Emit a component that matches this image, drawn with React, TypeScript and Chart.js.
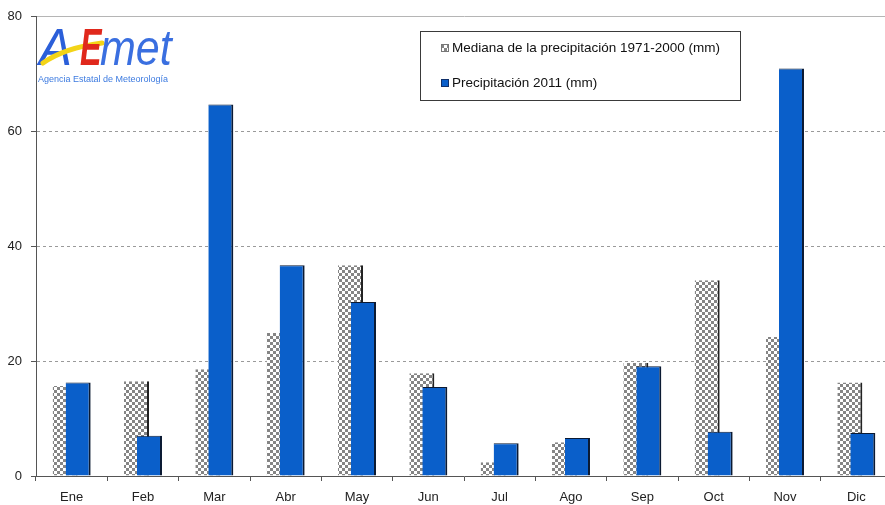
import { useEffect, useRef } from "react";
import { Chart, registerables } from "chart.js";

Chart.register(...registerables);

const months = ["Ene", "Feb", "Mar", "Abr", "May", "Jun", "Jul", "Ago", "Sep", "Oct", "Nov", "Dic"];
const median = [15.7, 16.5, 18.6, 24.9, 36.7, 17.9, 2.4, 5.9, 19.7, 34.1, 24.2, 16.3];
const precip2011 = [16.3, 7.0, 64.7, 36.7, 30.3, 15.5, 5.7, 6.6, 19.1, 7.7, 71.0, 7.5];
const yTicks = [0, 20, 40, 60, 80];
const legendLabels = ["Mediana de la precipitación 1971-2000 (mm)", "Precipitación 2011 (mm)"];
const logoLetters = ["A", "E", "met"];
const logoSubtitle = "Agencia Estatal de Meteorología";

const FONT = "'Liberation Sans', Arial, sans-serif";
const BLUE = "#0a5fca";

function makeChecker(): CanvasPattern | string {
  const c = document.createElement("canvas");
  c.width = 6;
  c.height = 6;
  const g = c.getContext("2d");
  if (!g) return "#bbb";
  g.fillStyle = "#ffffff";
  g.fillRect(0, 0, 6, 6);
  g.fillStyle = "#858585";
  g.fillRect(0, 0, 3, 3);
  g.fillRect(3, 3, 3, 3);
  return g.createPattern(c, "repeat") || "#bbb";
}

const overlayPlugin = {
  id: "overlay",
  afterDraw(chart: any) {
    const ctx: CanvasRenderingContext2D = chart.ctx;
    const pattern = (chart as any).$checker;
    ctx.save();
    // Legend box
    ctx.fillStyle = "#ffffff";
    ctx.fillRect(420.5, 31.5, 320, 69);
    ctx.strokeStyle = "#3a3a3a";
    ctx.lineWidth = 1;
    ctx.strokeRect(420.5, 31.5, 320, 69);
    ctx.font = `13.5px ${FONT}`;
    ctx.textBaseline = "middle";
    ctx.textAlign = "left";
    // entry 1
    ctx.fillStyle = pattern || "#bbb";
    ctx.fillRect(441, 44, 8, 8);
    ctx.strokeStyle = "#777";
    ctx.strokeRect(441.5, 44.5, 7, 7);
    ctx.fillStyle = "#111";
    ctx.fillText(legendLabels[0], 452, 48);
    // entry 2
    ctx.fillStyle = BLUE;
    ctx.fillRect(441, 79, 8, 8);
    ctx.strokeStyle = "#10306a";
    ctx.strokeRect(441.5, 79.5, 7, 7);
    ctx.fillStyle = "#111";
    ctx.fillText(legendLabels[1], 452, 83);

    // Logo
    ctx.textBaseline = "alphabetic";
    // A
    ctx.save();
    ctx.translate(39, 65);
    ctx.scale(0.95, 1);
    ctx.fillStyle = "#2b5fd9";
    ctx.font = `italic 52px ${FONT}`;
    ctx.fillText(logoLetters[0], 0, 0);
    ctx.restore();
    // yellow swoosh
    ctx.strokeStyle = "#f3d417";
    ctx.lineWidth = 5;
    ctx.lineCap = "round";
    ctx.beginPath();
    ctx.moveTo(43, 63);
    ctx.quadraticCurveTo(64, 48, 102, 43);
    ctx.stroke();
    // E
    ctx.save();
    ctx.translate(80, 65);
    ctx.scale(0.62, 1);
    ctx.fillStyle = "#e0281c";
    ctx.font = `italic bold 52px ${FONT}`;
    ctx.fillText(logoLetters[1], 0, 0);
    ctx.restore();
    // met
    ctx.save();
    ctx.translate(100, 65);
    ctx.scale(0.86, 1);
    ctx.fillStyle = "#3a6fe0";
    ctx.font = `italic 50px ${FONT}`;
    ctx.fillText(logoLetters[2], 0, 0);
    ctx.restore();
    // subtitle
    ctx.fillStyle = "#3d7be0";
    ctx.font = `9px ${FONT}`;
    ctx.fillText(logoSubtitle, 38, 82);
    ctx.restore();
  },
};

export default function App() {
  const ref = useRef<HTMLCanvasElement | null>(null);

  useEffect(() => {
    document.body.style.margin = "0";
    document.body.style.overflow = "hidden";
    const canvas = ref.current;
    if (!canvas) return;
    const checker = makeChecker();
    const chart = new Chart(canvas, {
      type: "bar",
      data: {
        labels: months,
        datasets: [
          {
            label: legendLabels[0],
            data: median.map((v, i) => ({ x: i - 0.091, y: v })),
            xAxisID: "xl",
            yAxisID: "y",
            backgroundColor: checker as any,
            borderColor: "#222",
            borderWidth: { top: 0, right: 2, bottom: 0, left: 0 },
            borderSkipped: false,
            grouped: false,
            barPercentage: 4,
            maxBarThickness: 25,
            order: 2,
          },
          {
            label: legendLabels[1],
            data: precip2011.map((v, i) => ({ x: i + 0.091, y: v })),
            xAxisID: "xl",
            yAxisID: "y",
            backgroundColor: BLUE,
            borderColor: "#0b1a33",
            borderWidth: { top: 1, right: 2, bottom: 0, left: 0 },
            borderSkipped: false,
            grouped: false,
            barPercentage: 4,
            maxBarThickness: 25,
            order: 1,
          },
        ],
      },
      options: {
        animation: false,
        responsive: false,
        maintainAspectRatio: false,
        layout: { padding: { top: 16, left: 0, right: 0, bottom: 0 } },
        plugins: {
          legend: { display: false },
          tooltip: { enabled: false },
        },
        scales: {
          x: {
            type: "category",
            labels: months,
            offset: true,
            position: "bottom",
            grid: {
              offset: true,
              drawOnChartArea: false,
              drawTicks: true,
              tickLength: 5,
              tickColor: "#555",
            },
            border: { display: true, color: "#555", width: 1 },
            ticks: {
              color: "#222",
              font: { family: FONT, size: 13 },
              padding: 9,
              maxRotation: 0,
            },
            afterFit: (s: any) => {
              s.height = 29;
            },
          },
          xl: {
            type: "linear",
            min: -0.5,
            max: 11.5,
            offset: false,
            display: false,
          },
          y: {
            type: "linear",
            min: 0,
            max: 80,
            afterBuildTicks: (s: any) => {
              s.ticks = yTicks.map((v) => ({ value: v }));
            },
            grid: {
              color: (c: any) =>
                c.tick && c.tick.value === 0 ? "rgba(0,0,0,0)" : c.tick && c.tick.value === 80 ? "#b5b5b5" : "#9a9a9a",
              tickColor: "#555",
              tickLength: 5,
              tickBorderDash: [],
            },
            border: {
              display: true,
              color: "#555",
              width: 1,
              dash: (c: any) => (c.tick && c.tick.value === 80 ? [] : [3, 3]),
            } as any,
            ticks: {
              color: "#222",
              font: { family: FONT, size: 13 },
              padding: 9,
            },
            afterFit: (s: any) => {
              s.width = 36;
            },
          },
        },
      },
      plugins: [overlayPlugin],
    });
    (chart as any).$checker = checker;
    chart.draw();
    return () => chart.destroy();
  }, []);

  return (
    <div style={{ width: 885, height: 505, overflow: "hidden", position: "relative" }}>
      <canvas ref={ref} width={892} height={505} style={{ display: "block" }} />
    </div>
  );
}
